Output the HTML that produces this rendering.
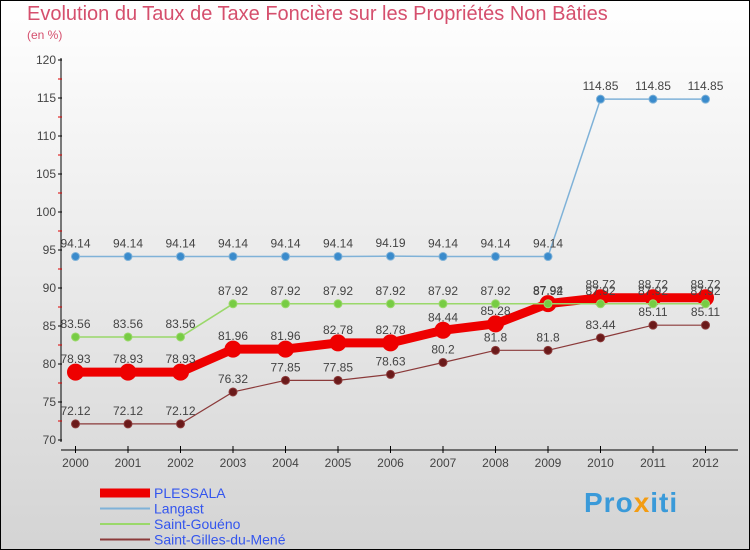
<!DOCTYPE html>
<html><head><meta charset="utf-8"><style>
body{margin:0;width:750px;height:550px;overflow:hidden;font-family:"Liberation Sans","DejaVu Sans",sans-serif}
#wrap{position:relative;width:748px;height:548px;border:1px solid #000;background:linear-gradient(#fff,#d4d4d4)}
.t{position:absolute;white-space:nowrap}
</style></head><body>
<div id="wrap">
<div class="t" style="left:26px;top:2px;font-size:20px;color:#d54f6d">Evolution du Taux de Taxe Foncière sur les Propriétés Non Bâties</div>
<div class="t" style="left:26px;top:27px;font-size:12px;color:#d54f6d">(en %)</div>
<svg id="c" width="750" height="550" style="position:absolute;left:-1px;top:-1px"></svg>
<div class="t" style="left:583px;top:486px;font-size:28px;font-weight:bold;color:#3a9ad9;letter-spacing:1px">Pro<span style="color:#f39c12">x</span>iti</div>
</div>
<script>
const years=[2000,2001,2002,2003,2004,2005,2006,2007,2008,2009,2010,2011,2012];
const plessala=[78.93,78.93,78.93,81.96,81.96,82.78,82.78,84.44,85.28,87.94,88.72,88.72,88.72];
const langast=[94.14,94.14,94.14,94.14,94.14,94.14,94.19,94.14,94.14,94.14,114.85,114.85,114.85];
const gouenno=[83.56,83.56,83.56,87.92,87.92,87.92,87.92,87.92,87.92,87.92,87.92,87.92,87.92];
const gilles=[72.12,72.12,72.12,76.32,77.85,77.85,78.63,80.2,81.8,81.8,83.44,85.11,85.11];
const yTicks=[70,75,80,85,90,95,100,105,110,115,120];
const names=["PLESSALA","Langast","Saint-Gouéno","Saint-Gilles-du-Mené"];
const svg=document.getElementById('c');const NS='http://www.w3.org/2000/svg';
const X=i=>75.5+i*52.5, Y=v=>440-(v-70)*7.6;
function el(t,a,p){const e=document.createElementNS(NS,t);for(const k in a)e.setAttribute(k,a[k]);(p||svg).appendChild(e);return e;}
let e=el('line',{x1:61,y1:58,x2:61,y2:442,stroke:'#000'});

e=el('line',{x1:61,y1:450,x2:738,y2:450,stroke:'#000'});

yTicks.forEach(v=>{el('line',{x1:58,y1:Y(v),x2:62,y2:Y(v),stroke:'#000'});
 if(v<120)el('line',{x1:58,y1:Y(v+2.5),x2:62,y2:Y(v+2.5),stroke:'#d00'});
 e=el('text',{x:56,y:Y(v)+4,'text-anchor':'end','font-size':12,fill:'#444'});e.textContent=v;
 });
years.forEach((y,i)=>{el('line',{x1:X(i),y1:446,x2:X(i),y2:453,stroke:'#000'});
 e=el('text',{x:X(i),y:467,'text-anchor':'middle','font-size':12,fill:'#444'});e.textContent=y;
 });
function series(d,col,w,r,name,dot){
 const g=el('g',{});
 el('polyline',{points:d.map((v,i)=>X(i)+','+Y(v)).join(' '),fill:'none',stroke:col,'stroke-width':w},g);
 d.forEach((v,i)=>{const c=el('circle',{cx:X(i),cy:Y(v),r:r,fill:dot,stroke:col},g);
  
  const t=el('text',{x:X(i),y:Y(v)-9,'text-anchor':'middle','font-size':12,fill:'#444'},g);t.textContent=v;
  });
}
series(gilles,'#8b3a3a',1.2,4,'saint-gilles','#6b1a1a');
series(langast,'#7fb2d8',1.5,4,'langast','#3a8bcc');
series(plessala,'#ee0000',9,8,'plessala','#ee0000');
series(gouenno,'#9ad86a',1.5,4,'saint-goueno','#77cc44');
const lc=['#ee0000','#7fb2d8','#9ad86a','#8b3a3a'],lw=[9,2,2,2];
names.forEach((n,i)=>{const y=493+i*15.5;
 e=el('line',{x1:100,y1:y,x2:150,y2:y,stroke:lc[i],'stroke-width':lw[i]});
 
 e=el('text',{x:154,y:y+5,'font-size':14,fill:'#3355ee'});e.textContent=n;
 });
</script>
</body></html>
